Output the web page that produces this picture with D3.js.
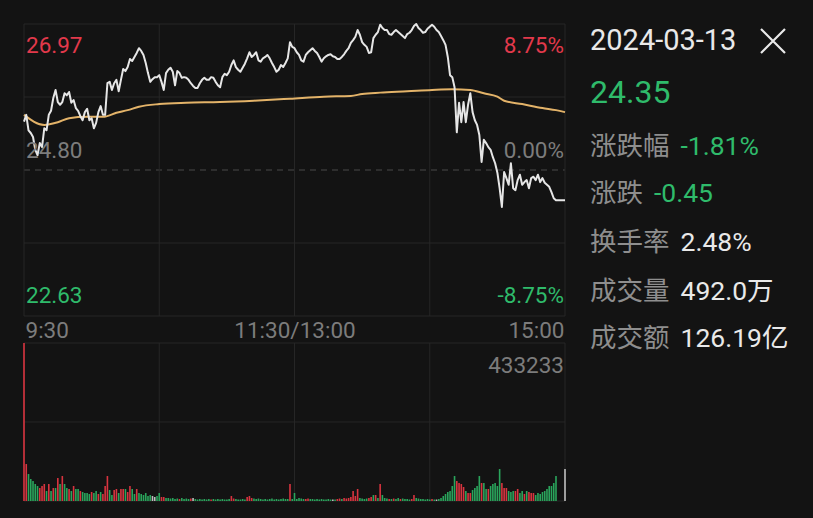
<!DOCTYPE html>
<html><head><meta charset="utf-8">
<script src="https://cdn.jsdelivr.net/npm/d3@7"></script>
<style>
html,body{margin:0;padding:0;background:#131313;}
svg{display:block;}
</style></head>
<body>
<svg id="c" width="813" height="518"></svg>
<script>
// ---------- data ----------
const tradeDate = "2024-03-13";
const prevClose = 24.80;
const priceMax = 26.97, priceMin = 22.63;
const pctLabels = ["8.75%", "0.00%", "-8.75%"];
const timeLabels = ["9:30", "11:30/13:00", "15:00"];
const timeTicks = [0, 120, 240];
const maxVolLabel = "433233";

// minute-by-minute price (241 minutes)
const prices = [
25.52,25.62,25.39,25.35,25.29,25.10,25.02,25.20,25.14,25.42,
25.39,25.62,25.68,25.87,25.99,25.81,25.77,25.81,25.94,25.91,
25.96,25.80,25.84,25.72,25.68,25.60,25.54,25.66,25.71,25.54,
25.57,25.42,25.50,25.66,25.75,25.62,25.62,26.09,26.11,25.99,
26.09,26.14,25.97,26.14,26.30,26.27,26.33,26.45,26.42,26.48,
26.54,26.61,26.57,26.51,26.39,26.24,26.11,26.15,26.18,26.18,
26.21,26.11,25.99,26.24,26.29,26.32,26.26,26.06,26.27,26.24,
26.17,26.18,26.17,26.14,26.09,26.05,26.02,26.02,26.09,26.14,
26.17,26.14,26.14,26.18,26.17,26.11,26.06,26.03,26.18,26.23,
26.21,26.26,26.36,26.43,26.33,26.29,26.26,26.32,26.38,26.46,
26.55,26.48,26.51,26.55,26.43,26.41,26.46,26.48,26.51,26.46,
26.39,26.33,26.26,26.29,26.36,26.33,26.39,26.46,26.70,26.63,
26.61,26.55,26.51,26.43,26.41,26.51,26.55,26.58,26.61,26.57,
26.54,26.48,26.41,26.46,26.49,26.51,26.52,26.49,26.48,26.45,
26.45,26.48,26.52,26.57,26.61,26.69,26.73,26.78,26.88,26.81,
26.70,26.66,26.63,26.54,26.55,26.76,26.81,26.85,26.96,26.91,
26.88,26.88,26.82,26.81,26.85,26.88,26.85,26.82,26.79,26.76,
26.82,26.84,26.88,26.94,26.97,26.91,26.88,26.84,26.85,26.90,
26.93,26.96,26.93,26.88,26.85,26.79,26.73,26.66,26.48,26.21,
26.18,26.03,25.36,25.80,25.51,25.81,25.51,25.77,25.94,25.66,
25.54,25.47,25.32,24.92,25.25,25.20,25.14,25.10,24.99,24.90,
24.76,24.53,24.25,24.77,24.68,24.58,24.90,24.53,24.50,24.65,
24.73,24.58,24.62,24.65,24.53,24.68,24.70,24.65,24.73,24.62,
24.68,24.61,24.58,24.55,24.47,24.38,24.35,24.35,24.35,24.35,
24.35
];

// average price line, read at these minutes
const avgMinutes = [0,9,15,20,28,35,41,46,51,60,72,87,102,118,133,145,150,158,170,181,190,198,204,210,213,221,230,236,240];
const avgPrices  = [25.62,25.47,25.51,25.57,25.59,25.59,25.65,25.69,25.74,25.78,25.80,25.81,25.83,25.86,25.89,25.90,25.93,25.95,25.97,25.99,26.00,25.99,25.94,25.89,25.83,25.78,25.72,25.69,25.66];

// minute volumes
const volumes = [
433233,101400,74000,60300,54800,46600,41100,35600,41100,46600,
27400,46600,27400,35600,35600,63000,46600,68500,46600,35600,
32900,27400,41100,32900,32900,27400,24700,21900,21900,19200,
24700,21900,27400,19200,24700,19200,41100,68500,30100,16400,
30100,32900,21900,32900,32900,32900,24700,41100,32900,19200,
32900,21900,19200,16400,21900,13700,16400,13700,11000,13700,
21900,11000,11000,8200,8200,6800,8200,5500,6800,5500,
8200,5500,6800,5500,6800,8200,5500,4100,5500,4100,
5500,4100,5500,4100,5500,4100,5500,4100,5500,4100,
4100,5500,13700,6800,5500,4100,4100,5500,4100,11000,
13700,8200,6800,5500,6800,5500,4100,5500,4100,5500,
6800,4100,5500,4100,5500,6800,5500,5500,46600,5500,
21900,5500,8200,6800,5500,5500,6800,5500,5500,4100,
5500,4100,5500,4100,4100,5500,4100,4100,4100,5500,
6800,5500,8200,6800,8200,11000,27400,13700,32900,8200,
6800,5500,6800,8200,11000,16400,16400,8200,46600,16400,
8200,6800,5500,5500,6800,5500,8200,5500,6800,5500,
5500,4100,5500,16400,8200,6800,5500,5500,4100,5500,
4100,5500,4100,4100,5500,8200,13700,19200,24700,27400,
41100,68500,54800,49300,46600,38400,27400,21900,21900,30100,
35600,41100,68500,49300,49300,32900,32900,41100,46600,49300,
41100,87700,49300,35600,35600,27400,24700,27400,27400,32900,
21900,27400,19200,27400,24700,21900,21900,16400,21900,19200,
24700,27400,32900,41100,41100,49300,68500,0,0,0,
87700
];
// 1 = up (red), -1 = down (green), 0 = flat (grey)
const volDir = [
1,1,-1,-1,-1,-1,-1,1,1,1,
-1,1,-1,1,-1,1,-1,1,-1,-1,
1,-1,1,-1,-1,1,-1,-1,-1,-1,
1,-1,-1,1,-1,1,1,1,-1,-1,
1,1,-1,1,1,-1,1,1,-1,-1,
1,-1,-1,-1,-1,-1,-1,0,0,-1,
-1,1,1,-1,-1,-1,-1,-1,-1,1,
-1,-1,-1,-1,1,0,-1,-1,-1,-1,
-1,-1,-1,1,-1,-1,-1,-1,-1,-1,
-1,-1,1,1,-1,-1,-1,-1,-1,1,
1,1,-1,-1,-1,-1,-1,-1,-1,-1,
-1,-1,-1,-1,-1,-1,-1,-1,1,-1,
-1,-1,-1,-1,-1,1,1,-1,-1,-1,
-1,-1,-1,-1,-1,-1,-1,0,-1,1,
1,-1,1,1,1,1,1,1,1,-1,
-1,-1,-1,1,1,-1,1,-1,1,-1,
-1,-1,1,-1,1,-1,-1,1,-1,-1,
-1,-1,1,1,-1,-1,-1,-1,-1,-1,
-1,1,-1,0,-1,-1,-1,-1,-1,-1,
-1,-1,1,1,1,1,-1,1,1,-1,
-1,-1,-1,1,-1,-1,1,-1,-1,-1,
-1,-1,1,1,1,-1,-1,-1,1,1,
-1,-1,1,-1,1,1,1,-1,-1,-1,
-1,-1,-1,-1,-1,-1,-1,0,0,0,
0
];

// info panel
const infoClose = "24.35";
const infoRows = [
  {label: "涨跌幅", value: "-1.81%", tone: "down"},
  {label: "涨跌", value: "-0.45", tone: "down"},
  {label: "换手率", value: "2.48%", tone: "plain"},
  {label: "成交量", value: "492.0万", tone: "plain"},
  {label: "成交额", value: "126.19亿", tone: "plain"}
];

// ---------- drawing ----------
const RED = "#e2394b", GREEN = "#2fbb6b", GREY = "#7c7c7c", WHITE = "#e9e9e9";
const GRID = "#262626";
const FONT = "Roboto, 'Noto Sans CJK SC', sans-serif";
const svg = d3.select("#c");

const L = 24, R = 565;
const x = d3.scaleLinear().domain([0, 240]).range([L, R]);
const y = d3.scaleLinear().domain([priceMin, priceMax]).range([316, 24]);
const yv = d3.scaleLinear().domain([0, 433233]).range([501, 343]);

// grids
const g = svg.append("g");
const vx = [0, 60, 120, 180, 240];
const priceGridY = [priceMax, (priceMax + prevClose) / 2, (prevClose + priceMin) / 2, priceMin];
priceGridY.forEach(p => g.append("line").attr("x1", L).attr("x2", R).attr("y1", y(p)).attr("y2", y(p)).attr("stroke", GRID).attr("stroke-width", 1));
g.append("line").attr("x1", L).attr("x2", R).attr("y1", y(prevClose)).attr("y2", y(prevClose))
  .attr("stroke", "#4a4a4a").attr("stroke-width", 1.2).attr("stroke-dasharray", "6,5");
vx.forEach(m => g.append("line").attr("x1", x(m)).attr("x2", x(m)).attr("y1", 24).attr("y2", 316).attr("stroke", GRID));
[0, 216717, 433233].forEach(v => g.append("line").attr("x1", L).attr("x2", R).attr("y1", yv(v)).attr("y2", yv(v)).attr("stroke", GRID));
vx.forEach(m => g.append("line").attr("x1", x(m)).attr("x2", x(m)).attr("y1", 343).attr("y2", 501).attr("stroke", GRID));

// volume bars
svg.append("g").selectAll("rect").data(volumes).join("rect")
  .attr("x", (d, i) => x(i) - 0.8)
  .attr("width", 1.6)
  .attr("y", d => yv(d))
  .attr("height", d => 501 - yv(d))
  .attr("fill", (d, i) => volDir[i] > 0 ? "#d8343f" : volDir[i] < 0 ? "#2aa55c" : "#bdbdbd");

// avg line
svg.append("path")
  .datum(avgMinutes.map((m, i) => [m, avgPrices[i]]))
  .attr("fill", "none").attr("stroke", "#e3b369").attr("stroke-width", 2)
  .attr("d", d3.line().x(d => x(d[0])).y(d => y(d[1])).curve(d3.curveMonotoneX));

// price line
svg.append("path")
  .datum(prices)
  .attr("fill", "none").attr("stroke", "#e6e6e6").attr("stroke-width", 2)
  .attr("stroke-linejoin", "round")
  .attr("d", d3.line().x((d, i) => x(i)).y(d => y(d)));

// price labels
const lab = svg.append("g").attr("font-family", FONT).attr("font-size", 22.5);
const leftLabels = [[priceMax, RED, 29], [prevClose, GREY, -12], [priceMin, GREEN, -13]];
leftLabels.forEach(([p, c, off]) => lab.append("text").attr("x", 26).attr("y", y(p) + off).attr("fill", c).text(p.toFixed(2)));
pctLabels.forEach((t, i) => lab.append("text").attr("x", 564).attr("y", y(leftLabels[i][0]) + leftLabels[i][2])
  .attr("text-anchor", "end").attr("fill", leftLabels[i][1]).text(t));

// time axis
const axis = d3.axisBottom(x).tickValues(timeTicks).tickSize(0).tickFormat((d, i) => timeLabels[i]);
const ax = svg.append("g").attr("transform", "translate(0,318)").call(axis);
ax.select(".domain").remove();
ax.selectAll("text").attr("font-family", FONT).attr("font-size", 22.5).attr("fill", GREY).attr("dy", "0.76em")
  .attr("text-anchor", (d, i) => i === 0 ? "start" : i === 2 ? "end" : "middle")
  .attr("dx", (d, i) => i === 0 ? 1 : i === 2 ? -1 : 0);

// max volume label
lab.append("text").attr("x", 564).attr("y", 373).attr("text-anchor", "end").attr("fill", GREY).text(maxVolLabel);

// info panel
const info = svg.append("g").attr("font-family", FONT);
info.append("text").attr("x", 590).attr("y", 50).attr("font-size", 29).attr("fill", WHITE).text(tradeDate);
info.append("path").attr("d", "M761,29 L785,53 M785,29 L761,53").attr("stroke", WHITE).attr("stroke-width", 2.2).attr("fill", "none");
info.append("text").attr("x", 590).attr("y", 103).attr("font-size", 32).attr("fill", GREEN).text(infoClose);
const rowY = [155, 202, 251, 300, 347];
infoRows.forEach((r, i) => {
  const t = info.append("text").attr("x", 590).attr("y", rowY[i]).attr("font-size", 26.5);
  t.append("tspan").attr("fill", "#8e8e8e").attr("font-family", "'Noto Sans CJK SC', sans-serif").text(r.label);
  t.append("tspan").attr("dx", 11).attr("fill", r.tone === "down" ? GREEN : WHITE).text(r.value);
});
</script>
</body></html>
